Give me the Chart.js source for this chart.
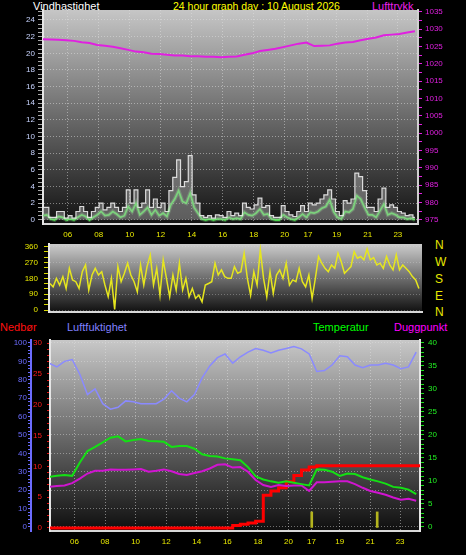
<!DOCTYPE html>
<html>
<head>
<meta charset="utf-8">
<script src="https://cdn.jsdelivr.net/npm/chart.js@4.4.1/dist/chart.umd.min.js"></script>
<style>
body { margin: 0; background: #000; width: 466px; height: 555px; overflow: hidden; position: relative; font-family: "Liberation Sans", Arial, sans-serif; }
canvas { position: absolute; left: 0; }
.lbl { position: absolute; font-size: 11px; line-height: 12px; white-space: nowrap; }
.dir { position: absolute; left: 435px; font-size: 12px; line-height: 12px; color: #e8e800; }
</style>
</head>
<body>
<div class="lbl" style="left:33px;top:0;color:#fff">Vindhastighet</div>
<div class="lbl" style="left:173px;top:0;color:#ffff00;font-size:10.5px">24 hour graph day : 10 August 2026</div>
<div class="lbl" style="left:372px;top:0;color:#ee22ee">Lufttrykk</div>
<div class="lbl" style="left:0;top:321px;color:#ff1010">Nedbør</div>
<div class="lbl" style="left:67px;top:321px;color:#8080ff">Luftfuktighet</div>
<div class="lbl" style="left:313px;top:321px;color:#00ff00">Temperatur</div>
<div class="lbl" style="left:394px;top:321px;color:#ff00ff">Duggpunkt</div>
<div class="dir" style="top:239px">N</div>
<div class="dir" style="top:256px">W</div>
<div class="dir" style="top:273px">S</div>
<div class="dir" style="top:290px">E</div>
<div class="dir" style="top:306px">N</div>

<canvas id="wind" width="466" height="243" style="top:0"></canvas>
<canvas id="dirc" width="466" height="80" style="top:240px"></canvas>
<canvas id="temp" width="466" height="235" style="top:320px"></canvas>

<script>
// ---- data (hours on the x axis) ----
const xMin = 4.4, xMax = 28.6;
const tickHours = [6, 8, 10, 12, 14, 16, 18, 20, 21.5, 23.35, 25.35, 27.3];
const tickLabels = ['06', '08', '10', '12', '14', '16', '18', '20', '17', '19', '21', '23'];

// wind, every 15 min from 04:24
const windStart = 4.4, windStep = 0.25;
const gust = [1.5,1.5,0.3,0.3,1.0,1.0,0.2,0.5,0.2,1.0, 1.6,1.0,0.3,1.0,1.5,2.0,1.2,1.5,2.0,1.5,
  1.0,1.5,3.6,2.0,3.6,1.5,2.0,3.6,1.5,2.5, 1.5,2.0,1.0,3.5,5.1,7.2,4.0,4.6,7.7,3.0,
  2.0,0.5,0.3,0.5,0.2,0.6,0.5,0.3,1.0,0.5, 0.8,0.5,2.0,1.5,1.3,1.8,2.6,1.5,1.7,0.5,
  0.3,0.3,1.7,1.0,0.6,0.4,1.0,1.7,1.0,2.0, 1.8,2.0,2.5,3.0,3.6,2.5,1.0,0.5,2.3,2.0,
  2.5,5.6,5.2,3.5,1.5,1.5,1.0,2.5,3.8,1.5, 1.8,1.5,1.0,0.8,0.5,0.6,0.3];
const windAvg = [0.5,0.6,0.1,0.0,0.4,0.3,0.0,0.1,0.0,0.3, 0.6,0.4,0.0,0.3,0.6,1.0,0.5,0.6,1.0,0.7,
  0.3,0.5,1.6,1.0,2.0,0.6,1.0,1.5,0.6,1.2, 0.5,0.8,0.4,1.8,2.5,3.5,2.2,2.0,3.2,1.5,
  0.8,0.1,0.0,0.1,0.0,0.1,0.1,0.0,0.3,0.1, 0.2,0.1,0.9,0.6,0.5,0.8,1.3,0.6,0.7,0.1,
  0.0,0.0,0.6,0.3,0.1,0.0,0.3,0.7,0.3,0.9, 0.8,1.0,1.4,1.6,2.4,1.0,0.3,0.1,1.0,0.9,
  1.3,2.9,2.5,1.5,0.6,0.6,0.3,1.1,1.9,0.6, 0.8,0.6,0.3,0.3,0.1,0.2,0.0];

// pressure, every 30 min
const presStart = 4.4, presStep = 0.5;
const pressure = [1027.1,1027.0,1026.9,1026.8,1026.6,1026.2,1026.0,1025.4,1025.2,1024.9,
  1024.5,1024.0,1023.5,1023.3,1022.9,1022.8,1022.6,1022.4,1022.4,1022.2,
  1022.2,1022.0,1022.0,1021.9,1022.0,1022.1,1022.6,1023.0,1023.7,1024.0,
  1024.3,1024.8,1025.3,1025.8,1026.1,1025.1,1025.2,1025.3,1025.8,1026.1,
  1026.3,1026.8,1027.2,1027.6,1028.2,1028.4,1028.6,1029.0,1029.4];

// wind direction
const dirStart = 4.46, dirStep = 0.21;
const direction = [151,132,180,142,190,123,237,171,161,123, 218,256,114,199,237,199,218,142,76,180,
  3,247,161,209,266,199,161,104,256,142, 247,313,142,237,85,285,180,76,199,114,
  266,114,180,76,123,66,85,47,142,151, 161,266,199,228,190,180,
  180,247,209,218,323,180,85,218,142,342, 180,76,218,95,199,228,180,266,142,171,
  161,237,161,132,199,66,180,304,266,237, 218,256,237,323,275,209,228,247,332,294,
  304,285,347,285,298,256,266,237,304,256, 228,313,228,256,237,218,190,171,123];

// bottom panel, every 30 min from 04:21
const lowStart = 4.35, lowStep = 0.5;
const humidity = [89,87,90,91,83,72,75,67,64,65, 68.5,68,67,67,67,69.5,74,70,68,72,
  81,87.5,92,94,89,92.5,95,97,96,94.5, 96,97,98,96.8,94,84.5,85,88,93,92.5,
  88,86.6,88,88,89,88,86,87,95];
const temperature = [10.9,11.1,11.3,11.1,14.0,16.5,17.4,18.4,19.4,19.7, 18.6,18.9,19.1,18.7,18.6,18.5,17.4,17.6,17.6,17.0,
  15.8,15.4,15.3,14.9,14.7,14.5,13.0,11.0,10.3,9.9, 9.6,9.9,9.6,9.3,9.0,12.5,12.4,12.0,11.1,11.6,
  11.5,10.8,10.3,9.9,9.4,8.7,8.5,8.1,7.1];
const dewpoint = [8.7,8.9,9.0,9.5,10.5,11.6,12.2,12.2,12.5,12.4, 12.4,12.5,12.6,12.0,12.2,12.5,12.1,11.5,11.3,11.7,
  12.1,12.7,13.5,13.6,12.9,13.0,12.0,10.2,9.1,8.7, 9.1,8.9,9.0,9.0,7.8,9.7,9.7,9.8,9.9,9.9,
  9.3,8.5,7.8,7.4,7.0,6.4,5.9,6.1,5.7];
const rain = [0,0,0,0,0,0,0,0,0,0, 0,0,0,0,0,0,0,0,0,0, 0,0,0,0,
  0.4,0.6,0.8,1.1,5.3,6.0,6.5,7.5,8.5,9.4,9.9,
  10.1,10.1,10.1,10.1,10.1,10.1,10.1,10.1,10.1,10.1,10.1,10.1,10.1,10.1, 0];
const rateHours = [21.52, 25.8];
const rateValues = [2.6, 2.6];

// ---- helpers ----
const tickFont = { family: '"Liberation Sans Narrow", "Liberation Sans", Arial, sans-serif', size: 8 };
const pts = (vals, start, step) => vals.map((v, i) => ({ x: start + i * step, y: v }));
function steps(from, to, step) {
    const t = [];
    for (let v = from; v <= to + 1e-9; v += step) t.push({ value: Math.round(v * 100) / 100 });
    return t;
}
const every = n => v => (Math.abs(v / n - Math.round(v / n)) < 1e-6 ? String(v) : '');
const gridEvery = (n, col) => c => (c.tick && Math.abs(c.tick.value / n - Math.round(c.tick.value / n)) < 1e-6 ? col : 'transparent');
const noPad = s => { s.paddingTop = 0; s.paddingBottom = 0; };

const panelBg = {
    id: 'panelBg',
    beforeDraw(chart, args, opts) {
        const { ctx, chartArea: a } = chart;
        const g = ctx.createLinearGradient(0, a.top, 0, a.bottom);
        opts.stops.forEach(s => g.addColorStop(s[0], s[1]));
        ctx.save();
        ctx.fillStyle = g;
        ctx.fillRect(a.left, a.top, a.right - a.left, a.bottom - a.top);
        ctx.restore();
    }
};

function hourAxis(showLabels, height, pad, grid) {
    return {
        type: 'linear', min: xMin, max: xMax, offset: false,
        afterBuildTicks: s => { s.ticks = tickHours.map(v => ({ value: v })); },
        afterFit: s => { s.height = height; s.paddingLeft = 0; s.paddingRight = 0; },
        grid: { display: true, drawOnChartArea: grid, drawTicks: false, offset: false, color: 'rgba(225,225,225,0.5)' },
        border: { display: true, color: '#d8d8d8', width: 2, dash: [1, 2] },
        ticks: { display: showLabels, autoSkip: false, maxRotation: 0, padding: pad, color: '#e8e800', font: tickFont,
                 callback: (v, i) => tickLabels[i] }
    };
}

const base = {
    responsive: false, animation: false, devicePixelRatio: 1,
    plugins: { legend: { display: false }, tooltip: { enabled: false } },
    elements: { point: { radius: 0 }, line: { tension: 0 } }
};

// ---- 1. wind and pressure ----
new Chart(document.getElementById('wind'), {
    type: 'line',
    plugins: [panelBg],
    data: {
        datasets: [
            { data: pts(pressure, presStart, presStep), yAxisID: 'yP', borderColor: '#e020e0', borderWidth: 2 },
            { data: pts(gust, windStart, windStep), yAxisID: 'yW', stepped: 'middle', fill: 'origin',
              borderColor: 'rgba(235,235,235,0.9)', borderWidth: 1.2, backgroundColor: 'rgba(165,165,165,0.5)' },
            { data: pts(windAvg, windStart, windStep), yAxisID: 'yW', borderColor: 'rgba(140,255,140,0.3)', borderWidth: 4 },
            { data: pts(windAvg, windStart, windStep), yAxisID: 'yW', borderColor: '#3cff3c', borderWidth: 1.7 }
        ]
    },
    options: Object.assign({}, base, {
        layout: { padding: { top: 10, left: 0, right: 0, bottom: 0 } },
        plugins: Object.assign({}, base.plugins, { panelBg: { stops: [[0, '#c6c6c6'], [0.5, '#6a6a6a'], [1, '#121212']] } }),
        scales: {
            x: hourAxis(true, 19, 6, true),
            yW: {
                position: 'left', min: -0.5, max: 25.2,
                afterBuildTicks: s => { s.ticks = steps(0, 25, 0.5); },
                afterFit: s => { s.width = 43; noPad(s); },
                grid: { color: gridEvery(2, 'rgba(225,225,225,0.5)'), tickColor: '#a8a8a8', tickLength: 5 },
                border: { display: true, color: '#e6e6e6', width: 2, dash: [1, 2] },
                ticks: { autoSkip: false, padding: 3, color: '#c8d4ff', font: tickFont, callback: every(2) }
            },
            yP: {
                position: 'right', min: 973.8, max: 1035.5,
                afterBuildTicks: s => { s.ticks = steps(975, 1035, 2.5); },
                afterFit: s => { s.width = 48; noPad(s); },
                grid: { drawOnChartArea: false, tickColor: '#e020e0', tickLength: 4 },
                border: { display: true, color: '#d0d0d0', width: 2 },
                ticks: { autoSkip: false, padding: 3, color: '#e020e0', font: tickFont, callback: every(5) }
            }
        }
    })
});

// ---- 2. wind direction ----
new Chart(document.getElementById('dirc'), {
    type: 'line',
    plugins: [panelBg],
    data: {
        datasets: [
            { data: pts(direction, dirStart, dirStep), yAxisID: 'yD', borderColor: '#e6e61e', borderWidth: 1.5 }
        ]
    },
    options: Object.assign({}, base, {
        layout: { padding: { top: 4, left: 0, right: 44, bottom: 0 } },
        plugins: Object.assign({}, base.plugins, { panelBg: { stops: [[0, '#cccccc'], [0.5, '#6e6e6e'], [1, '#101010']] } }),
        scales: {
            x: Object.assign(hourAxis(false, 8, 0, false), { grid: { display: false } }),
            yD: {
                position: 'left', min: -11, max: 375,
                afterBuildTicks: s => { s.ticks = steps(0, 360, 30); },
                afterFit: s => { s.width = 49; noPad(s); },
                grid: { color: gridEvery(90, 'rgba(215,215,215,0.35)'), tickColor: '#d8d800', tickLength: 5 },
                border: { display: true, color: '#e6e6e6', width: 2, dash: [1, 2] },
                ticks: { autoSkip: false, padding: 6, color: '#e8e800', font: tickFont, callback: every(90) }
            }
        }
    })
});

// ---- 3. rain, humidity, temperature, dew point ----
new Chart(document.getElementById('temp'), {
    type: 'line',
    plugins: [panelBg],
    data: {
        datasets: [
            { data: pts(humidity, lowStart, lowStep), yAxisID: 'yH', borderColor: '#8a8aff', borderWidth: 1.5 },
            { data: pts(temperature, lowStart, lowStep), yAxisID: 'yT', borderColor: '#14e014', borderWidth: 2 },
            { data: pts(dewpoint, lowStart, lowStep), yAxisID: 'yT', borderColor: '#d014d0', borderWidth: 2 },
            { data: pts(rain, lowStart, lowStep), yAxisID: 'yR', stepped: 'before', borderColor: '#ff0000', borderWidth: 3 },
            { type: 'bar', data: rateHours.map((h, i) => ({ x: h, y: rateValues[i] })), yAxisID: 'yR',
              backgroundColor: '#b4b41e', barThickness: 2, grouped: false }
        ]
    },
    options: Object.assign({}, base, {
        layout: { padding: { top: 20, left: 0, right: 0, bottom: 0 } },
        plugins: Object.assign({}, base.plugins, { panelBg: { stops: [[0, '#c8c8c8'], [0.5, '#6a6a6a'], [1, '#0e0e0e']] } }),
        scales: {
            x: hourAxis(true, 24, 6, true),
            yH: {
                position: 'left', weight: 2, min: -2.2, max: 101.6,
                afterBuildTicks: s => { s.ticks = steps(0, 100, 2); },
                afterFit: s => { s.width = 31; noPad(s); },
                grid: { color: gridEvery(10, 'rgba(225,225,225,0.45)'), tickColor: '#6a6aff', tickLength: 3 },
                border: { display: true, color: '#6c6cff', width: 2, dash: [1, 2] },
                ticks: { autoSkip: false, padding: 1, color: '#6c6cff', font: tickFont, callback: every(10) }
            },
            yR: {
                position: 'left', weight: 1, min: -0.5, max: 30.5,
                afterBuildTicks: s => { s.ticks = steps(0, 30, 1); },
                afterFit: s => { s.width = 19; noPad(s); },
                grid: { drawOnChartArea: false, tickColor: '#e01010', tickLength: 3 },
                border: { display: true, color: '#e6e6e6', width: 2 },
                ticks: { autoSkip: false, padding: 5, color: '#ff1a1a', font: tickFont, callback: every(5) }
            },
            yT: {
                position: 'right', min: -0.9, max: 40.65,
                afterBuildTicks: s => { s.ticks = steps(0, 40, 1); },
                afterFit: s => { s.width = 46; noPad(s); },
                grid: { drawOnChartArea: false, tickColor: '#18e018', tickLength: 4 },
                border: { display: true, color: '#e6e6e6', width: 2 },
                ticks: { autoSkip: false, padding: 4, color: '#22f022', font: tickFont, callback: every(5) }
            }
        }
    })
});
</script>
</body>
</html>
